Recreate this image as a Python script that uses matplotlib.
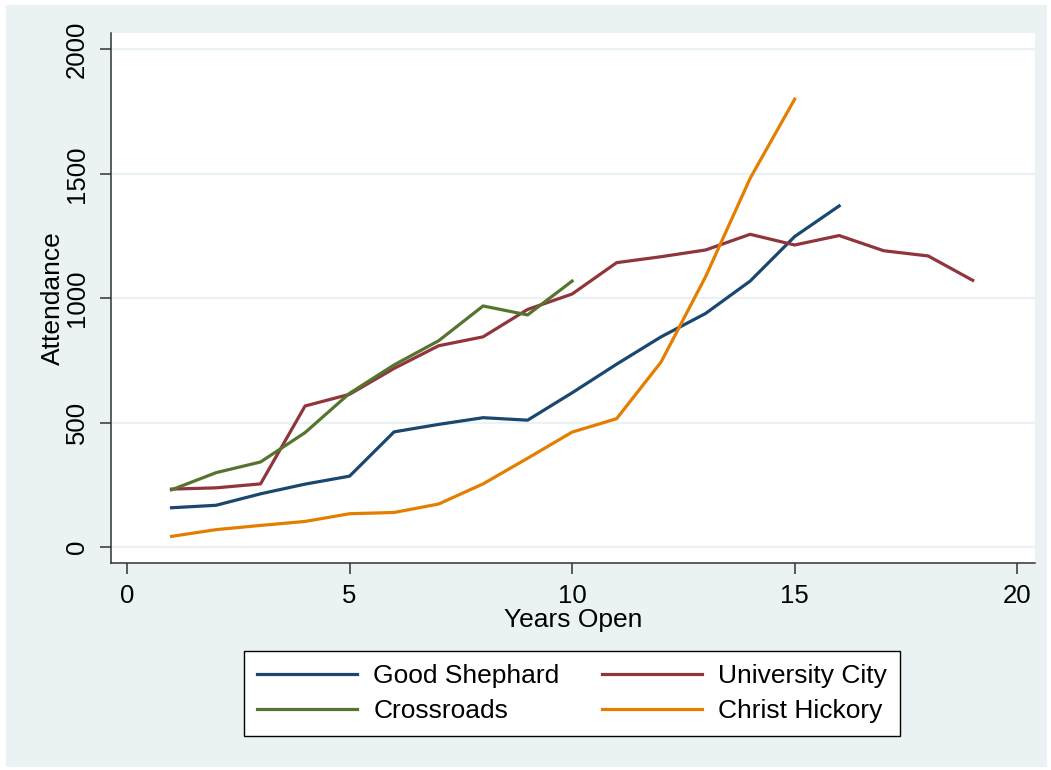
"""Attendance by years open for four churches."""
import matplotlib
matplotlib.use("Agg")
from matplotlib import pyplot as plt
from matplotlib.patches import Rectangle

plt.rcParams['font.family'] = ['Liberation Sans', 'DejaVu Sans']

years_gs = list(range(1, 17))
good_shephard = [158, 168, 214, 253, 285, 463, 493, 520, 510, 620, 735, 845, 939, 1069, 1248, 1371]

years_uc = list(range(1, 20))
university_city = [233, 238, 254, 567, 614, 718, 809, 845, 955, 1017, 1143, 1167, 1194, 1257, 1214,
                   1252, 1191, 1170, 1072]

years_cr = list(range(1, 11))
crossroads = [230, 299, 342, 460, 618, 732, 829, 969, 933, 1069]

years_ch = list(range(1, 16))
christ_hickory = [43, 70, 87, 103, 134, 139, 173, 254, 357, 462, 516, 744, 1087, 1482, 1800]

bg = '#EAF2F3'

fig = plt.figure(figsize=(10.51, 7.70), dpi=100, facecolor='white')
# bluish graph region inside a thin white margin
fig.patches.append(Rectangle((6 / 1051, 1 - 767 / 770), (1047 - 6) / 1051, (767 - 5) / 770,
                             transform=fig.transFigure, facecolor=bg, edgecolor='none', zorder=-10))

ax = fig.add_axes([111 / 1051, 1 - 563 / 770, (1035 - 111) / 1051, (563 - 33) / 770])
ax.set_facecolor('white')

l_gs, = ax.plot(years_gs, good_shephard, color='#1A476F', lw=2.3, label='Good Shephard')
l_uc, = ax.plot(years_uc, university_city, color='#90353B', lw=2.3, label='University City')
l_cr, = ax.plot(years_cr, crossroads, color='#55752F', lw=2.3, label='Crossroads')
l_ch, = ax.plot(years_ch, christ_hickory, color='#E37E00', lw=2.3, label='Christ Hickory')

ax.set_xlim(-0.36, 20.4)
ax.set_ylim(-64, 2066)
ax.set_xticks([0, 5, 10, 15, 20])
ax.set_yticks([0, 500, 1000, 1500, 2000])
ax.grid(axis='y', color=bg, lw=1.6)
ax.set_axisbelow(True)

for side in ['top', 'right']:
    ax.spines[side].set_visible(False)
for side in ['left', 'bottom']:
    ax.spines[side].set_color('#333333')
    ax.spines[side].set_linewidth(1.1)

ax.tick_params(axis='both', length=8, width=1.1, color='#333333', labelsize=18.5)
ax.tick_params(axis='y', pad=8)
ax.tick_params(axis='x', pad=7)
for lab in ax.get_yticklabels():
    lab.set_rotation(90)
    lab.set_va('center')

ax.set_xlabel('Years Open', fontsize=19, labelpad=0)
ax.set_ylabel('Attendance', fontsize=19, labelpad=0)

# row-wise order like the reference (matplotlib fills columns first)
handles = [l_gs, l_cr, l_uc, l_ch]
leg = fig.legend(handles, [h.get_label() for h in handles], ncol=2, loc='center',
                 bbox_to_anchor=(572 / 1051, 1 - 693.5 / 770),
                 fontsize=19, frameon=True, fancybox=False, edgecolor='black',
                 facecolor='white', framealpha=1,
                 handlelength=3.8, handletextpad=0.6, columnspacing=1.6, labelspacing=0.42,
                 borderpad=0.5)
leg.get_frame().set_linewidth(1.0)
for line in leg.get_lines():
    line.set_linewidth(2.3)

fig.savefig('out.png', dpi=100, facecolor='white')
